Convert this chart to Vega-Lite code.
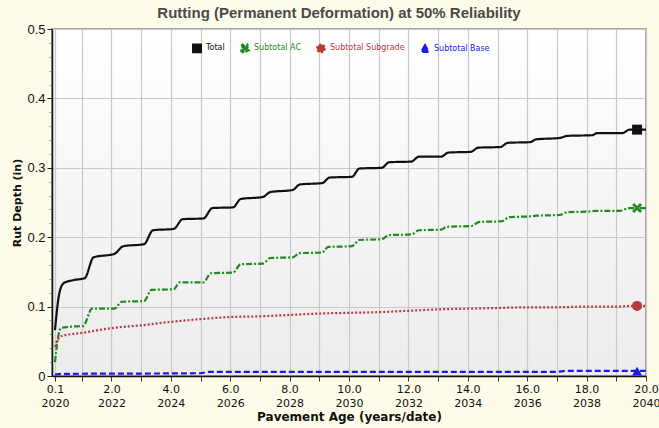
{
  "$schema": "https://vega.github.io/schema/vega-lite/v6.json",
  "width": 594,
  "height": 347,
  "autosize": {"type": "none"},
  "padding": {"left": 52, "top": 29, "right": 13, "bottom": 52},
  "background": "#fdfce8",
  "title": {
    "text": "Rutting (Permanent Deformation) at 50% Reliability",
    "font": "Liberation Sans",
    "fontSize": 15,
    "fontWeight": "bold",
    "color": "#4a4a4a",
    "offset": 2,
    "dx": -10
  },
  "config": {
    "view": {
      "stroke": "#8a8a8a",
      "strokeWidth": 1.5,
      "fill": {"gradient": "linear", "x1": 0, "y1": 0, "x2": 0, "y2": 1, "stops": [{"offset": 0, "color": "#ffffff"}, {"offset": 1, "color": "#ececec"}]}
    },
    "axis": {"gridColor": "#c9c9c9", "gridWidth": 1.2, "domainColor": "#111111", "tickColor": "#333333", "labelColor": "#111111", "titleColor": "#111111"},
    "legend": {
      "orient": "none",
      "legendX": 140,
      "legendY": 14,
      "direction": "horizontal",
      "labelFont": "DejaVu Sans",
      "labelFontSize": 8,
      "symbolSize": 60,
      "columnPadding": 11,
      "labelOffset": 4,
      "symbolStrokeWidth": 0
    }
  },
  "datasets": {
    "curves": [
      {"series": "Total", "t": 0.1, "v": 0.066},
      {"series": "Total", "t": 0.25, "v": 0.12},
      {"series": "Total", "t": 0.4, "v": 0.134},
      {"series": "Total", "t": 0.7, "v": 0.138},
      {"series": "Total", "t": 1.1, "v": 0.141},
      {"series": "Total", "t": 1.4, "v": 0.171},
      {"series": "Total", "t": 2.1, "v": 0.176},
      {"series": "Total", "t": 2.4, "v": 0.187},
      {"series": "Total", "t": 3.1, "v": 0.19},
      {"series": "Total", "t": 3.4, "v": 0.21},
      {"series": "Total", "t": 4.1, "v": 0.212},
      {"series": "Total", "t": 4.4, "v": 0.226},
      {"series": "Total", "t": 5.1, "v": 0.227},
      {"series": "Total", "t": 5.4, "v": 0.242},
      {"series": "Total", "t": 6.1, "v": 0.243},
      {"series": "Total", "t": 6.35, "v": 0.255},
      {"series": "Total", "t": 7.1, "v": 0.258},
      {"series": "Total", "t": 7.35, "v": 0.265},
      {"series": "Total", "t": 8.1, "v": 0.268},
      {"series": "Total", "t": 8.35, "v": 0.276},
      {"series": "Total", "t": 9.1, "v": 0.278},
      {"series": "Total", "t": 9.35, "v": 0.286},
      {"series": "Total", "t": 10.1, "v": 0.287},
      {"series": "Total", "t": 10.35, "v": 0.299},
      {"series": "Total", "t": 11.1, "v": 0.3},
      {"series": "Total", "t": 11.35, "v": 0.308},
      {"series": "Total", "t": 12.1, "v": 0.309},
      {"series": "Total", "t": 12.35, "v": 0.316},
      {"series": "Total", "t": 13.1, "v": 0.316},
      {"series": "Total", "t": 13.35, "v": 0.322},
      {"series": "Total", "t": 14.1, "v": 0.323},
      {"series": "Total", "t": 14.35, "v": 0.329},
      {"series": "Total", "t": 15.1, "v": 0.33},
      {"series": "Total", "t": 15.35, "v": 0.336},
      {"series": "Total", "t": 16.1, "v": 0.337},
      {"series": "Total", "t": 16.3, "v": 0.341},
      {"series": "Total", "t": 17.1, "v": 0.343},
      {"series": "Total", "t": 17.35, "v": 0.346},
      {"series": "Total", "t": 18.2, "v": 0.347},
      {"series": "Total", "t": 18.35, "v": 0.35},
      {"series": "Total", "t": 19.2, "v": 0.35},
      {"series": "Total", "t": 19.45, "v": 0.355},
      {"series": "Total", "t": 20.0, "v": 0.355},
      {"series": "Subtotal AC", "t": 0.1, "v": 0.02},
      {"series": "Subtotal AC", "t": 0.2, "v": 0.055},
      {"series": "Subtotal AC", "t": 0.3, "v": 0.069},
      {"series": "Subtotal AC", "t": 0.6, "v": 0.071},
      {"series": "Subtotal AC", "t": 1.05, "v": 0.072},
      {"series": "Subtotal AC", "t": 1.35, "v": 0.097},
      {"series": "Subtotal AC", "t": 2.1, "v": 0.097},
      {"series": "Subtotal AC", "t": 2.35, "v": 0.107},
      {"series": "Subtotal AC", "t": 3.1, "v": 0.108},
      {"series": "Subtotal AC", "t": 3.35, "v": 0.124},
      {"series": "Subtotal AC", "t": 4.1, "v": 0.125},
      {"series": "Subtotal AC", "t": 4.3, "v": 0.135},
      {"series": "Subtotal AC", "t": 5.1, "v": 0.135},
      {"series": "Subtotal AC", "t": 5.35, "v": 0.148},
      {"series": "Subtotal AC", "t": 6.1, "v": 0.149},
      {"series": "Subtotal AC", "t": 6.35, "v": 0.161},
      {"series": "Subtotal AC", "t": 7.1, "v": 0.162},
      {"series": "Subtotal AC", "t": 7.35, "v": 0.17},
      {"series": "Subtotal AC", "t": 8.1, "v": 0.171},
      {"series": "Subtotal AC", "t": 8.35, "v": 0.177},
      {"series": "Subtotal AC", "t": 9.1, "v": 0.178},
      {"series": "Subtotal AC", "t": 9.3, "v": 0.186},
      {"series": "Subtotal AC", "t": 10.1, "v": 0.187},
      {"series": "Subtotal AC", "t": 10.35, "v": 0.196},
      {"series": "Subtotal AC", "t": 11.1, "v": 0.197},
      {"series": "Subtotal AC", "t": 11.35, "v": 0.203},
      {"series": "Subtotal AC", "t": 12.1, "v": 0.204},
      {"series": "Subtotal AC", "t": 12.35, "v": 0.21},
      {"series": "Subtotal AC", "t": 13.1, "v": 0.211},
      {"series": "Subtotal AC", "t": 13.3, "v": 0.215},
      {"series": "Subtotal AC", "t": 14.1, "v": 0.216},
      {"series": "Subtotal AC", "t": 14.4, "v": 0.222},
      {"series": "Subtotal AC", "t": 15.15, "v": 0.223},
      {"series": "Subtotal AC", "t": 15.4, "v": 0.229},
      {"series": "Subtotal AC", "t": 16.1, "v": 0.23},
      {"series": "Subtotal AC", "t": 16.3, "v": 0.231},
      {"series": "Subtotal AC", "t": 17.1, "v": 0.232},
      {"series": "Subtotal AC", "t": 17.35, "v": 0.236},
      {"series": "Subtotal AC", "t": 18.1, "v": 0.237},
      {"series": "Subtotal AC", "t": 18.3, "v": 0.238},
      {"series": "Subtotal AC", "t": 19.1, "v": 0.238},
      {"series": "Subtotal AC", "t": 19.45, "v": 0.242},
      {"series": "Subtotal AC", "t": 20.0, "v": 0.242},
      {"series": "Subtotal Subgrade", "t": 0.1, "v": 0.042},
      {"series": "Subtotal Subgrade", "t": 0.2, "v": 0.053},
      {"series": "Subtotal Subgrade", "t": 0.35, "v": 0.058},
      {"series": "Subtotal Subgrade", "t": 1.0, "v": 0.062},
      {"series": "Subtotal Subgrade", "t": 2.0, "v": 0.069},
      {"series": "Subtotal Subgrade", "t": 3.0, "v": 0.073},
      {"series": "Subtotal Subgrade", "t": 4.0, "v": 0.078},
      {"series": "Subtotal Subgrade", "t": 5.0, "v": 0.082},
      {"series": "Subtotal Subgrade", "t": 6.0, "v": 0.085},
      {"series": "Subtotal Subgrade", "t": 7.0, "v": 0.086},
      {"series": "Subtotal Subgrade", "t": 8.0, "v": 0.088},
      {"series": "Subtotal Subgrade", "t": 9.0, "v": 0.09},
      {"series": "Subtotal Subgrade", "t": 10.0, "v": 0.091},
      {"series": "Subtotal Subgrade", "t": 11.0, "v": 0.092},
      {"series": "Subtotal Subgrade", "t": 12.0, "v": 0.094},
      {"series": "Subtotal Subgrade", "t": 13.0, "v": 0.096},
      {"series": "Subtotal Subgrade", "t": 14.0, "v": 0.097},
      {"series": "Subtotal Subgrade", "t": 15.0, "v": 0.098},
      {"series": "Subtotal Subgrade", "t": 16.0, "v": 0.099},
      {"series": "Subtotal Subgrade", "t": 17.0, "v": 0.099},
      {"series": "Subtotal Subgrade", "t": 18.0, "v": 0.1},
      {"series": "Subtotal Subgrade", "t": 19.0, "v": 0.1},
      {"series": "Subtotal Subgrade", "t": 19.5, "v": 0.101},
      {"series": "Subtotal Subgrade", "t": 20.0, "v": 0.101},
      {"series": "Subtotal Base", "t": 0.1, "v": 0.002},
      {"series": "Subtotal Base", "t": 0.3, "v": 0.003},
      {"series": "Subtotal Base", "t": 5.0, "v": 0.004},
      {"series": "Subtotal Base", "t": 5.3, "v": 0.006},
      {"series": "Subtotal Base", "t": 17.0, "v": 0.006},
      {"series": "Subtotal Base", "t": 17.3, "v": 0.0075},
      {"series": "Subtotal Base", "t": 20.0, "v": 0.0075}
    ],
    "markers": [
      {"series": "Total", "t": 19.7, "v": 0.355},
      {"series": "Subtotal AC", "t": 19.7, "v": 0.242},
      {"series": "Subtotal Subgrade", "t": 19.7, "v": 0.101},
      {"series": "Subtotal Base", "t": 19.7, "v": 0.007}
    ]
  },
  "encoding": {
    "x": {
      "field": "t",
      "type": "quantitative",
      "scale": {"domain": [0, 20], "nice": false, "zero": false},
      "axis": {
        "title": "Pavement Age (years/date)",
        "titleFont": "DejaVu Sans",
        "titleFontSize": 12,
        "titleFontWeight": "bold",
        "titlePadding": 3,
        "values": [0.1, 1, 2, 3, 4, 5, 6, 7, 8, 9, 10, 11, 12, 13, 14, 15, 16, 17, 18, 19, 20],
        "labelExpr": "datum.value < 0.5 ? ['0.1', '2020'] : (datum.value % 2 == 0 ? [format(datum.value, '.1f'), '' + (2020 + datum.value)] : '')",
        "labelFont": "DejaVu Sans",
        "labelFontSize": 11,
        "labelLineHeight": 14,
        "labelPadding": 2,
        "labelOverlap": false,
        "labelFlush": false,
        "tickSize": 5,
        "domainWidth": 1.5,
        "grid": true
      }
    },
    "y": {
      "field": "v",
      "type": "quantitative",
      "scale": {"domain": [0, 0.5], "nice": false},
      "axis": {
        "title": "Rut Depth (in)",
        "titleFont": "DejaVu Sans",
        "titleFontSize": 11,
        "titleFontWeight": "bold",
        "titlePadding": 4,
        "values": [0, 0.02, 0.04, 0.06, 0.08, 0.1, 0.12, 0.14, 0.16, 0.18, 0.2, 0.22, 0.24, 0.26, 0.28, 0.3, 0.32, 0.34, 0.36, 0.38, 0.4, 0.42, 0.44, 0.46, 0.48, 0.5],
        "labelExpr": "abs(datum.value * 10 - round(datum.value * 10)) < 0.001 ? (datum.value == 0 ? '0' : format(datum.value, '.1f')) : ''",
        "labelFont": "Liberation Sans",
        "labelFontSize": 13,
        "labelPadding": 2,
        "labelOverlap": false,
        "labelFlush": false,
        "tickSize": {"condition": {"test": "abs(datum.value * 10 - round(datum.value * 10)) < 0.001", "value": 5}, "value": 3},
        "tickColor": {"condition": {"test": "abs(datum.value * 10 - round(datum.value * 10)) < 0.001", "value": "#222222"}, "value": "#999999"},
        "gridOpacity": {"condition": {"test": "abs(datum.value * 10 - round(datum.value * 10)) < 0.001", "value": 1}, "value": 0},
        "domainWidth": 1.5,
        "grid": true
      }
    }
  },
  "layer": [
    {
      "data": {"name": "curves"},
      "mark": {"type": "line", "interpolate": "monotone"},
      "encoding": {
        "color": {
          "field": "series",
          "type": "nominal",
          "scale": {"domain": ["Total", "Subtotal AC", "Subtotal Subgrade", "Subtotal Base"], "range": ["#111111", "#1f8a1f", "#b83a3a", "#1a1aee"]},
          "legend": {
            "title": null,
            "encode": {"symbols": {"update": {"strokeWidth": {"value": 0}, "strokeDash": {"value": []}}}, "labels": {"update": {"fill": {"signal": "scale('color', datum.value)"}}}}
          }
        },
        "strokeDash": {
          "field": "series",
          "type": "nominal",
          "scale": {"domain": ["Total", "Subtotal AC", "Subtotal Subgrade", "Subtotal Base"], "range": [[1, 0], [6, 2, 2, 2], [2, 2], [6, 3]]},
          "legend": null
        },
        "strokeWidth": {
          "field": "series",
          "type": "nominal",
          "scale": {"domain": ["Total", "Subtotal AC", "Subtotal Subgrade", "Subtotal Base"], "range": [2.2, 2.2, 1.6, 2]},
          "legend": null
        }
      }
    },
    {
      "data": {"name": "markers"},
      "mark": {"type": "point", "filled": true, "opacity": 1, "size": 100},
      "encoding": {
        "color": {
          "field": "series",
          "type": "nominal",
          "scale": {"domain": ["Total", "Subtotal AC", "Subtotal Subgrade", "Subtotal Base"], "range": ["#111111", "#1f8a1f", "#b83a3a", "#1a1aee"]},
          "legend": {
            "title": null,
            "encode": {"symbols": {"update": {"strokeWidth": {"value": 0}, "strokeDash": {"value": []}}}, "labels": {"update": {"fill": {"signal": "scale('color', datum.value)"}}}}
          }
        },
        "shape": {
          "field": "series",
          "type": "nominal",
          "scale": {"domain": ["Total", "Subtotal AC", "Subtotal Subgrade", "Subtotal Base"], "range": ["square", "M-1,-0.6L-0.6,-1L0,-0.4L0.6,-1L1,-0.6L0.4,0L1,0.6L0.6,1L0,0.4L-0.6,1L-1,0.6L-0.4,0Z", "circle", "triangle-up"]},
          "legend": {
            "title": null,
            "encode": {"symbols": {"update": {"strokeWidth": {"value": 0}, "strokeDash": {"value": []}}}, "labels": {"update": {"fill": {"signal": "scale('color', datum.value)"}}}}
          }
        }
      }
    }
  ]
}
